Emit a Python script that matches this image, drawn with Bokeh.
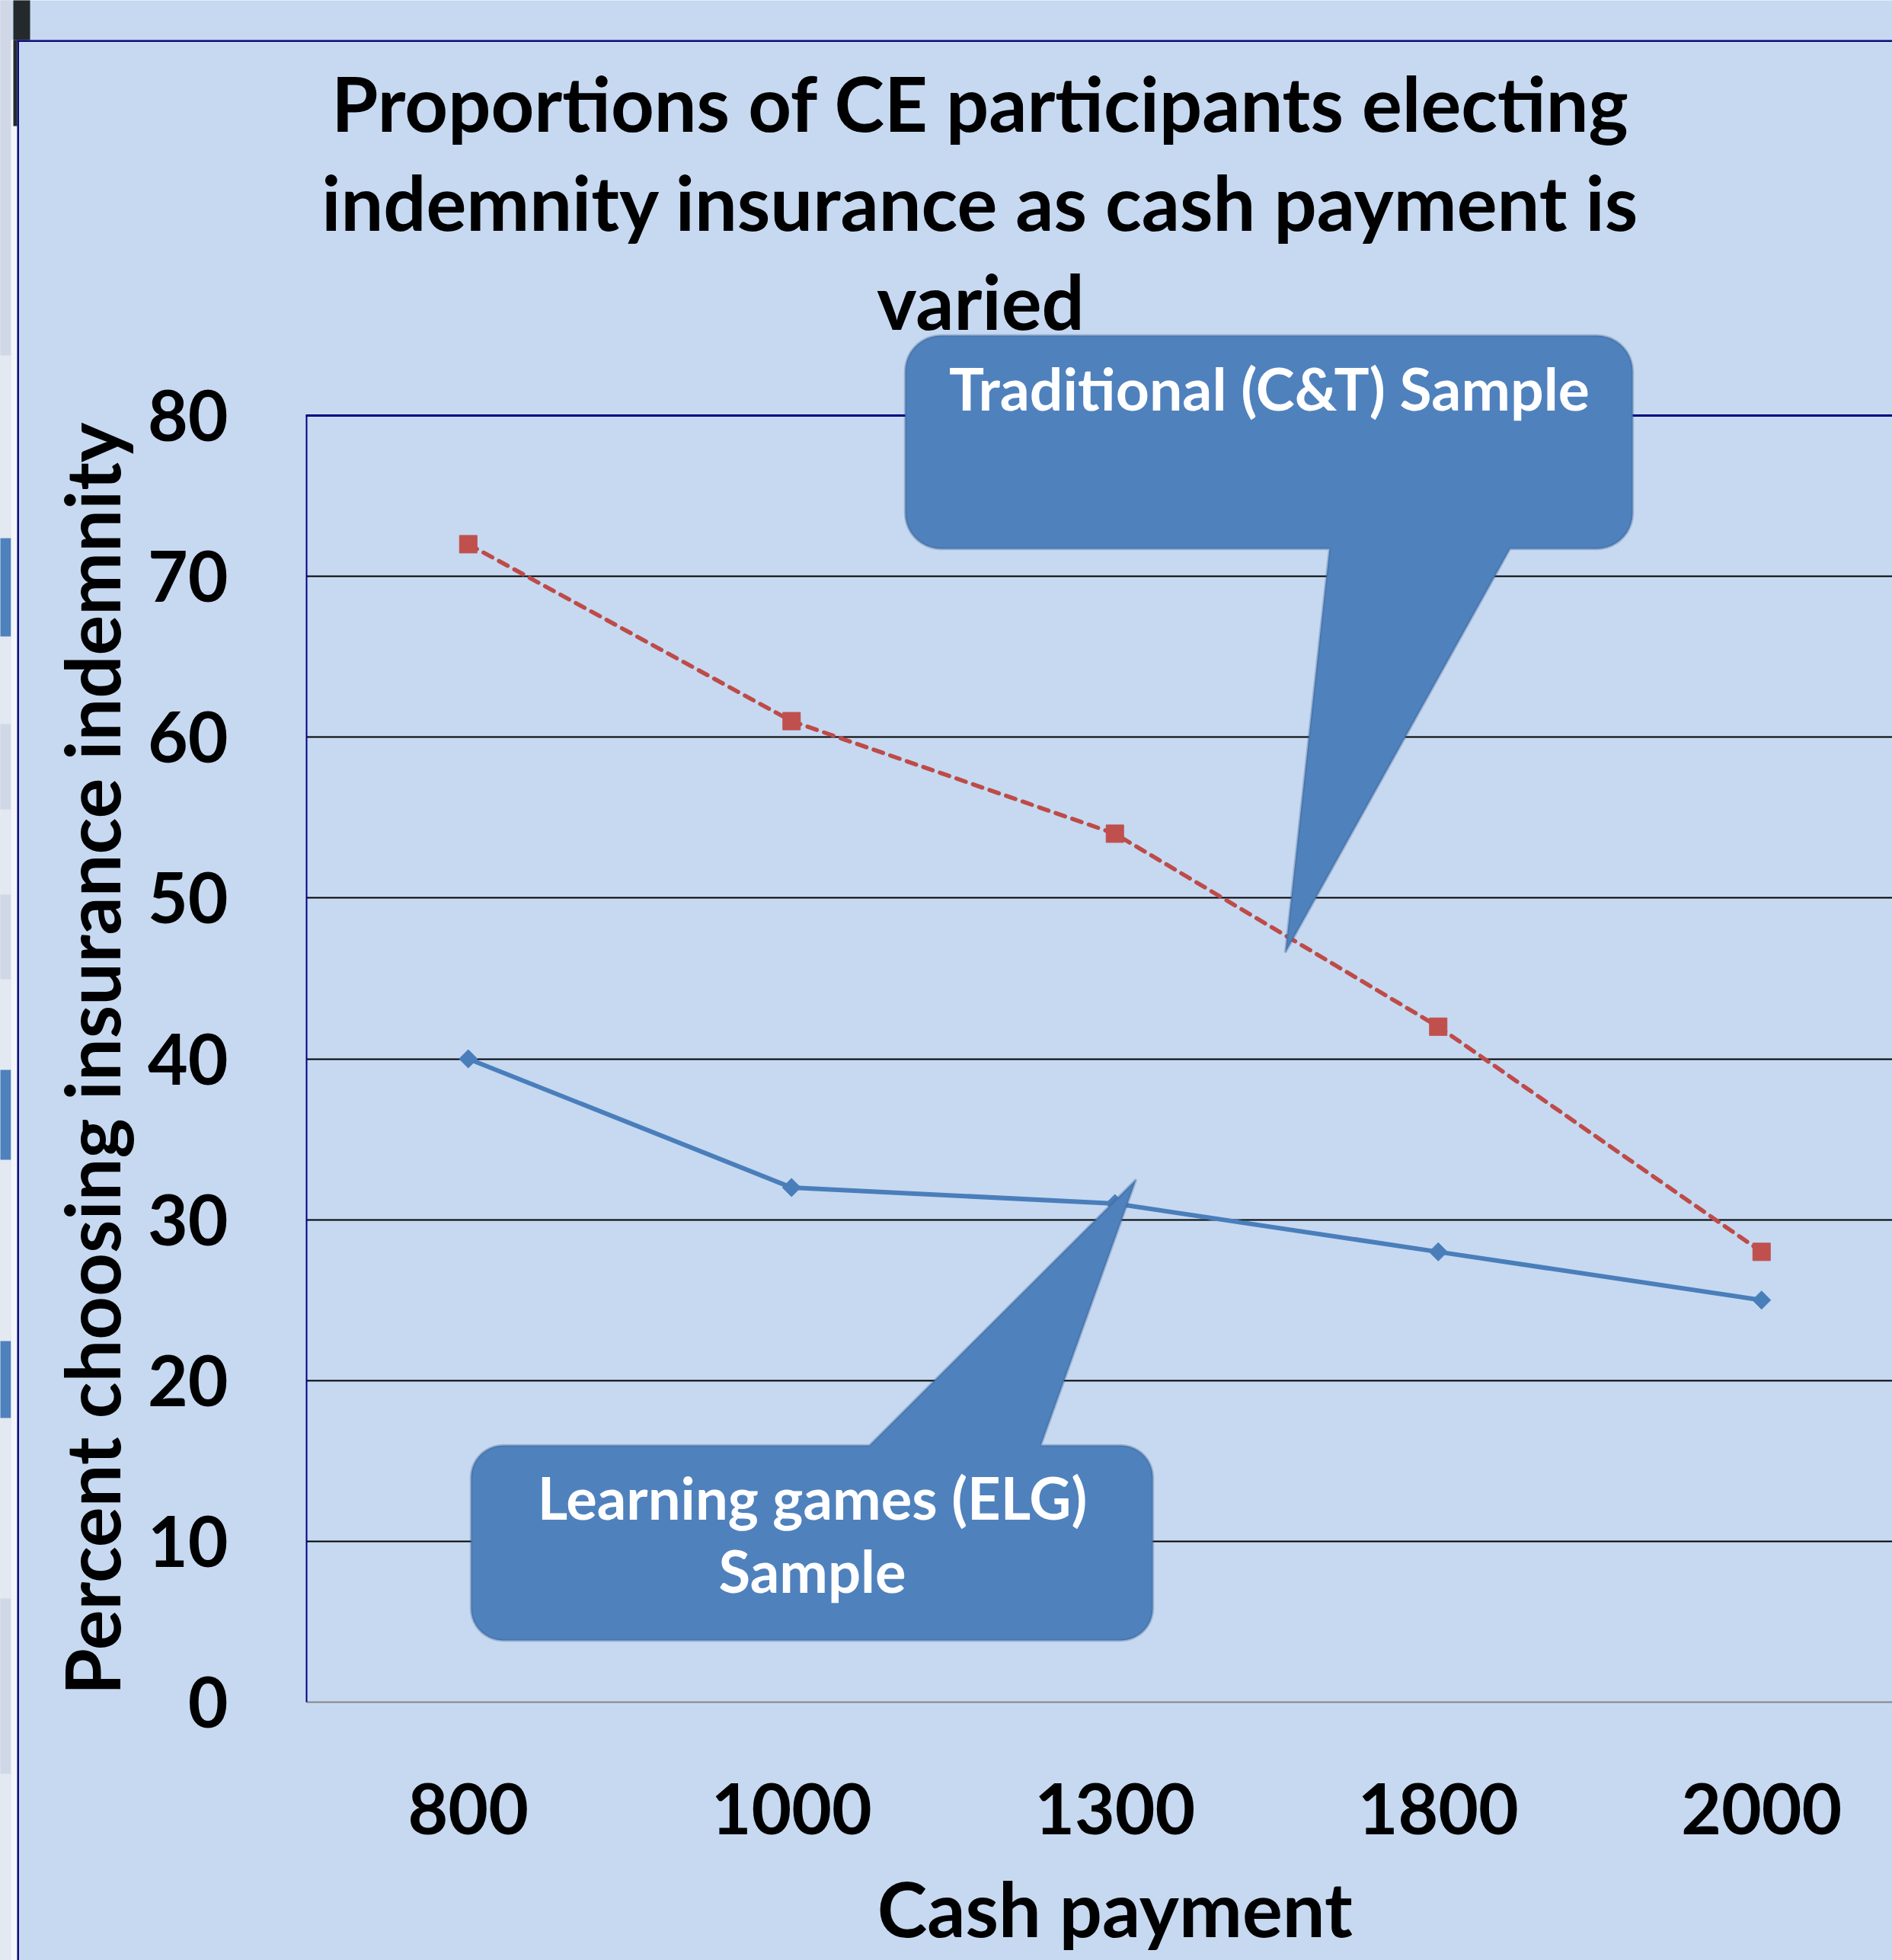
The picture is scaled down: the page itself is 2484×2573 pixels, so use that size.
import numpy as np
from bokeh.plotting import figure
from bokeh.models import Range1d, FixedTicker, Label, PolyAnnotation
from bokeh.embed import file_html
from bokeh.resources import INLINE

# ---------------- data ----------------
cash_payment = ["800", "1000", "1300", "1800", "2000"]
traditional_ct = [72, 61, 54, 42, 28]
learning_elg = [40, 32, 31, 28, 25]
y_ticks = [0, 10, 20, 30, 40, 50, 60, 70, 80]

title_lines = ["Proportions of CE participants electing",
               "indemnity insurance as cash payment is",
               "varied"]
x_title = "Cash payment"
y_title = "Percent choosing insurance indemnity"
ct_label = ["Traditional (C&T) Sample"]
elg_label = ["Learning games (ELG)", "Sample"]

# ---------------- layout (page pixels) ----------------
W, H = 2484, 2573
FL, FT, FB = 402, 545, 2234           # plot area left / top(80) / bottom(0)
BAND = 424.5                          # px per category
PPU = (FB - FT) / 80.0                # px per y unit

BG = "#c6d9f1"
FONT = "Lato"


def dx(px):
    return -0.5 + (px - FL) / BAND


def dy(py):
    return (FB - py) / PPU


x_plot_end = dx(W + 20)

p = figure(width=W, height=H, output_backend="svg", toolbar_location=None,
           x_range=Range1d(dx(0), dx(W)), y_range=Range1d(dy(H), dy(0)),
           min_border=0, min_border_left=0, min_border_right=0,
           min_border_top=0, min_border_bottom=0)
p.title.visible = False
p.background_fill_color = BG
p.border_fill_color = BG
p.outline_line_color = None

# y axis (spine at the left edge of the plot area)
yax = p.yaxis[0]
yax.fixed_location = -0.5
yax.bounds = (y_ticks[0], y_ticks[-1])
yax.ticker = FixedTicker(ticks=y_ticks)
yax.axis_line_color = "#000080"
yax.axis_line_width = 2
yax.major_tick_line_color = None
yax.minor_tick_line_color = None
yax.major_label_text_font = FONT
yax.major_label_text_font_size = "91px"
yax.major_label_text_font_style = "bold"
yax.major_label_text_color = "black"
yax.major_label_standoff = 97

# x axis (spine at y = 0)
xax = p.xaxis[0]
xax.fixed_location = 0
xax.bounds = (-0.5, len(cash_payment) - 0.5)
xax.ticker = FixedTicker(ticks=list(range(len(cash_payment))))
xax.major_label_overrides = {i: c for i, c in enumerate(cash_payment)}
xax.axis_line_color = "#868686"
xax.axis_line_width = 2
xax.major_tick_line_color = None
xax.minor_tick_line_color = None
xax.major_label_text_font = FONT
xax.major_label_text_font_size = "91px"
xax.major_label_text_font_style = "bold"
xax.major_label_text_color = "black"
xax.major_label_standoff = 100

# grids
p.xgrid.visible = False
grid = p.ygrid[0]
grid_ticks = y_ticks[1:-1]
if "cross_bounds" in grid.properties():
    grid.ticker = FixedTicker(ticks=grid_ticks)
    grid.bounds = (grid_ticks[0], grid_ticks[-1])
    grid.cross_bounds = (-0.5, x_plot_end)
    grid.grid_line_color = "black"
    grid.grid_line_width = 2
else:
    grid.visible = False
    p.segment(x0=[-0.5] * len(grid_ticks), x1=[x_plot_end] * len(grid_ticks),
              y0=grid_ticks, y1=grid_ticks, line_color="black", line_width=2)


def rect(x0, y0, x1, y1, color):
    p.add_layout(PolyAnnotation(xs=[dx(x0), dx(x1), dx(x1), dx(x0)],
                                ys=[dy(y0), dy(y0), dy(y1), dy(y1)],
                                fill_color=color, fill_alpha=1.0, line_color=None))


# ---------------- slide frame decorations ----------------
rect(-5, -5, 14, H + 5, "#e3e8f1")
for y0, y1 in [(-5, 466), (950, 1062), (1174, 1285), (2098, 2328)]:
    rect(-5, y0, 14, y1, "#d0d8e8")
for y0, y1 in [(706, 835), (1404, 1522), (1760, 1861)]:
    rect(-5, y0, 14, y1, "#4f81bd")
rect(14, 52, 22, H + 5, "#f3f5f9")
rect(17, -5, 39, 52, "#24292b")
rect(17, 52, 22, 165, "#24292b")
rect(22, 52, 24.5, H + 5, "#0c0c78")
rect(22, 52, W + 5, 54.5, "#0c0c78")

# top border of plot area (navy)
rect(FL - 1, FT - 1.5, W + 20, FT + 1.5, "#000080")

# ---------------- series ----------------
xs = list(range(len(cash_payment)))
p.line(xs, traditional_ct, line_color="#be4b48", line_width=5.5,
       line_dash="13 10", line_cap="round")
p.scatter(xs, traditional_ct, marker="square", size=23,
          fill_color="#c0504d", line_color="#c0504d")
p.line(xs, learning_elg, line_color="#4a7ebb", line_width=6)
p.scatter(xs, learning_elg, marker="square", angle=np.pi / 4, size=17,
          fill_color="#4a7ebb", line_color="#4a7ebb")


def text(txt, x, baseline_px, size, color="black"):
    # place by the text's vertical middle; Lato's middle sits 0.39 em above the baseline
    p.add_layout(Label(x=x, y=dy(baseline_px - 0.39 * size), text=txt,
                       text_font=FONT, text_font_size=f"{size}px",
                       text_font_style="bold", text_color=color,
                       text_align="center", text_baseline="middle"))


# title
for i, t in enumerate(title_lines):
    text(t, dx(1287), 173 + 130 * i, 99)

# x axis title, centred under the plot area
text(x_title, (len(cash_payment) - 1) / 2, 2543, 99)

# y axis title, rotated, centred on the plot area height
p.add_layout(Label(x=dx(158 - 0.39 * 99), y=(y_ticks[0] + y_ticks[-1]) / 2,
                   text=y_title, angle=np.pi / 2, text_font=FONT,
                   text_font_size="99px", text_font_style="bold",
                   text_color="black", text_align="center",
                   text_baseline="middle"))


# ---------------- callouts ----------------
def callout(x0, y0, x1, y1, r, side, b0, b1, tip):
    pts = []

    def arc(cx, cy, a0, a1):
        for t in np.linspace(a0, a1, 12):
            pts.append((cx + r * np.cos(t), cy + r * np.sin(t)))

    arc(x0 + r, y0 + r, np.pi, 1.5 * np.pi)
    if side == "top":
        pts.extend([(b0, y0), tip, (b1, y0)])
    arc(x1 - r, y0 + r, 1.5 * np.pi, 2 * np.pi)
    arc(x1 - r, y1 - r, 0, 0.5 * np.pi)
    if side == "bottom":
        pts.extend([(b1, y1), tip, (b0, y1)])
    arc(x0 + r, y1 - r, 0.5 * np.pi, np.pi)
    return [dx(a) for a, b in pts], [dy(b) for a, b in pts]


for args in [(1188, 440, 2143, 720, 47, "bottom", 1745, 1982, (1687, 1250)),
             (618, 1897, 1513, 2153, 42, "top", 1141, 1366, (1491, 1548))]:
    cx, cy = callout(*args)
    p.add_layout(PolyAnnotation(xs=cx, ys=cy, fill_color="#4f81bd", fill_alpha=1.0,
                                line_color="#385d8a", line_width=3.5))

for i, t in enumerate(ct_label):
    text(t, dx(1666), 539 + 96 * i, 77, "white")
for i, t in enumerate(elg_label):
    text(t, dx(1066), 1995 + 96 * i, 76, "white")

open("out.html", "w").write(file_html(p, INLINE))
